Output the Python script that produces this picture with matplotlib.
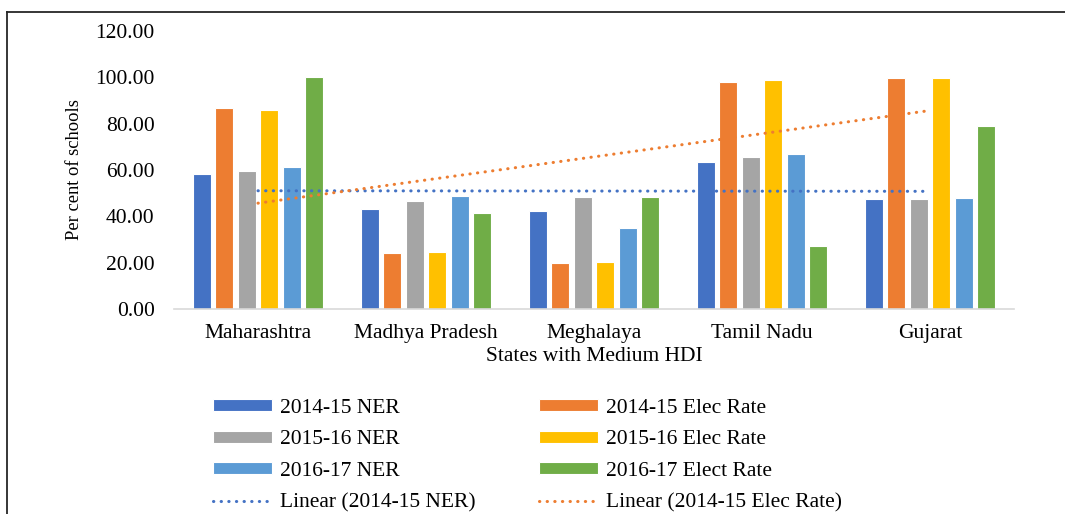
import numpy as np
import matplotlib
matplotlib.use('Agg')
from matplotlib import pyplot as plt
from matplotlib.lines import Line2D

states = ['Maharashtra', 'Madhya Pradesh', 'Meghalaya', 'Tamil Nadu', 'Gujarat']
ner_1415 = [58.1, 43.0, 42.4, 63.6, 47.5]
elec_1415 = [86.6, 24.3, 19.7, 98.1, 99.7]
ner_1516 = [59.7, 46.6, 48.2, 65.5, 47.3]
elec_1516 = [86.0, 24.6, 20.3, 98.7, 99.8]
ner_1617 = [61.4, 48.8, 35.0, 66.8, 47.9]
elec_1617 = [100.0, 41.6, 48.3, 27.2, 79.1]

series = [
    ('2014-15 NER', ner_1415, '#4472C4'),
    ('2014-15 Elec Rate', elec_1415, '#ED7D31'),
    ('2015-16 NER', ner_1516, '#A5A5A5'),
    ('2015-16 Elec Rate', elec_1516, '#FFC000'),
    ('2016-17 NER', ner_1617, '#5B9BD5'),
    ('2016-17 Elect Rate', elec_1617, '#70AD47'),
]

plt.rcParams['font.family'] = ['Liberation Serif', 'DejaVu Serif']
fs = 15.5

fig = plt.figure(figsize=(10.65, 5.14), dpi=100)
ax = fig.add_axes([174/1065, 1-309/514, 840/1065, 278/514])

x = np.arange(len(states))
slot = 0.134
width = 0.105
bars = {}
for i, (name, vals, col) in enumerate(series):
    bars[name] = ax.bar(x + (i - 2.5)*slot, vals, width, color=col, edgecolor='white',
                        linewidth=0.8, label=name, zorder=2)

# linear trendlines (Excel style) for the 2014-15 series
dots = (0, (0.1, 2.4))
trend = {}
for name, vals, col in [('2014-15 NER', ner_1415, '#4472C4'), ('2014-15 Elec Rate', elec_1415, '#ED7D31')]:
    k, b = np.polyfit(x + 1, vals, 1)
    trend[name], = ax.plot(x, k*(x + 1) + b, color=col, linestyle=dots, linewidth=2.2,
                           dash_capstyle='round', zorder=3, label='Linear (%s)' % name)

ax.set_xlim(-0.5, len(states) - 0.5)
ax.set_ylim(0, 120)
ax.set_yticks(np.arange(0, 121, 20))
ax.set_yticklabels(['%.2f' % v for v in np.arange(0, 121, 20)])
ax.set_xticks(x)
ax.set_xticklabels(states)
ax.tick_params(axis='y', length=0, pad=14, labelsize=fs)
ax.tick_params(axis='x', length=0, pad=11, labelsize=fs)
for s in ['top', 'right', 'left']:
    ax.spines[s].set_visible(False)
ax.spines['bottom'].set_color('#D9D9D9')
ax.spines['bottom'].set_linewidth(1.2)
ax.set_ylabel('Per cent of schools', fontsize=13.3, labelpad=9)
ax.set_xlabel('States with Medium HDI', fontsize=fs, labelpad=3)

handles = [bars['2014-15 NER'], bars['2015-16 NER'], bars['2016-17 NER'], trend['2014-15 NER'],
           bars['2014-15 Elec Rate'], bars['2015-16 Elec Rate'], bars['2016-17 Elect Rate'],
           trend['2014-15 Elec Rate']]
labels = ['2014-15 NER', '2015-16 NER', '2016-17 NER', 'Linear (2014-15 NER)',
          '2014-15 Elec Rate', '2015-16 Elec Rate', '2016-17 Elect Rate', 'Linear (2014-15 Elec Rate)']
fig.legend(handles, labels, ncol=2, loc='upper left', bbox_to_anchor=(213/1065, 1-399/514),
           frameon=False, fontsize=fs, borderpad=0, borderaxespad=0, handlelength=2.75,
           handleheight=0.5, handletextpad=0.34, columnspacing=2.97, labelspacing=0.58)

# outer chart border (top and left visible)
fig.add_artist(Line2D([7/1065, 1], [1-12/514, 1-12/514], color='#262626', linewidth=1.3))
fig.add_artist(Line2D([7/1065, 7/1065], [0, 1-12/514], color='#262626', linewidth=1.3))

plt.savefig('out.png', dpi=100)
